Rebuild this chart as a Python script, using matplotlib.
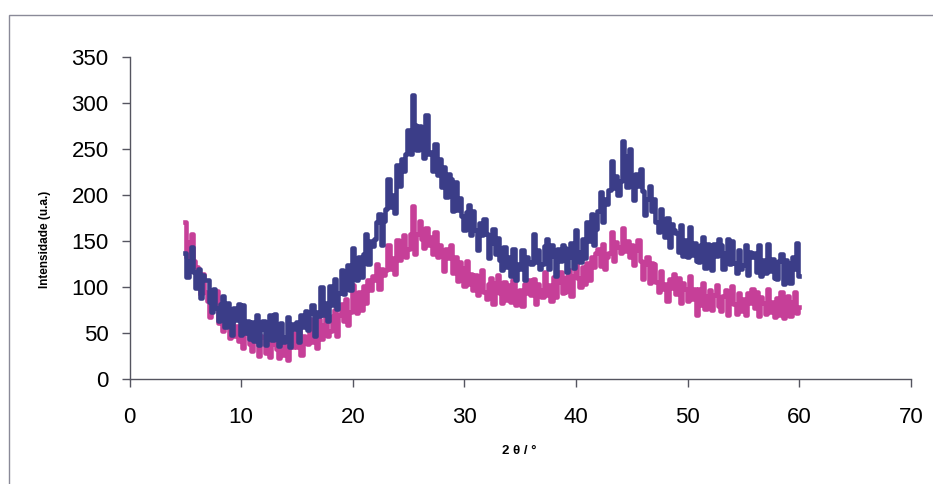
import numpy as np
import matplotlib
matplotlib.use("Agg")
import matplotlib.pyplot as plt
from matplotlib.patches import Rectangle

matplotlib.rcParams['font.family'] = ['Liberation Sans', 'DejaVu Sans']

# XRD patterns, 5-60 deg in 0.2 deg steps
two_theta_start, two_theta_end = 5, 60

amostra_a = [
    137, 111, 128, 143, 116,  99, 120, 88, 113, 107,  108, 84, 73, 98, 77,
    63, 82, 90, 57, 83,  70, 48, 77, 64, 82,  48, 80, 50, 63, 43,
    62, 41, 70, 37, 54,  63, 37, 54, 69, 42,  71, 47, 36, 61, 40,
    46, 67, 35, 60, 54,  62, 40, 69, 56, 74,  53, 72, 80, 47, 73,
    68, 100, 70, 83, 63,  101, 80, 109, 76, 93,  118, 92, 109, 124, 97,
    142, 118, 107, 132, 111,  136, 157, 125, 150, 144,  152, 171, 179, 146, 172,
    185, 217, 187, 200, 180,  232, 210, 239, 226, 244,  270, 244, 308, 276, 249,
    275, 251, 240, 287, 244,  247, 226, 255, 222, 239,  209, 230, 198, 223, 217,
    182, 214, 184, 197, 177,  162, 181, 189, 156, 182,  162, 140, 169, 156, 174,
    157, 131, 148, 163, 136,  153, 129, 118, 143, 122,  133, 112, 141, 108, 125,
    119, 140, 108, 133, 127,  125, 157, 127, 140, 120,  125, 144, 152, 119, 145,
    134, 112, 141, 128, 146,  142, 116, 133, 148, 121,  162, 138, 127, 152, 131,
    171, 150, 179, 146, 163,  182, 203, 171, 196, 190,  205, 237, 207, 220, 200,
    215, 258, 242, 209, 250,  216, 194, 223, 210, 228,  204, 178, 195, 210, 183,
    195, 171, 160, 185, 164,  154, 175, 143, 168, 162,  159, 138, 167, 134, 151,
    133, 165, 135, 148, 128,  127, 146, 154, 121, 147,  140, 118, 147, 134, 152,
    146, 120, 137, 152, 125,  150, 126, 115, 140, 119,  124, 145, 113, 138, 132,
    137, 116, 145, 112, 129,  115, 147, 117, 130, 110,  109, 128, 136, 103, 129,
    126, 104, 133, 120, 148,  112,
]

amostra_b = [
    170, 133, 149, 158, 128,  122, 102, 92, 114, 95,  85, 67, 91, 81, 96,
    61, 79, 52, 73, 67,  45, 72, 47, 58, 41,  56, 34, 50, 61, 38,
    30, 46, 53, 25, 47,  46, 28, 52, 24, 38,  53, 33, 23, 45, 26,
    39, 21, 45, 35, 50,  35, 53, 26, 47, 41,  38, 65, 40, 51, 34,
    65, 43, 59, 70, 47,  52, 68, 75, 47, 69,  81, 63, 87, 59, 73,
    102, 82, 72, 94, 75,  101, 83, 107, 97, 112,  107, 125, 98, 119, 113,
    118, 145, 120, 131, 114,  151, 129, 145, 156, 133,  141, 157, 188, 136, 158,
    172, 152, 142, 164, 145,  154, 136, 160, 132, 146,  135, 117, 141, 131, 146,
    115, 133, 106, 127, 121,  101, 128, 103, 114, 97,  113, 91, 107, 118, 95,
    87, 103, 110, 82, 104,  113, 93, 83, 105, 86,  102, 84, 108, 80, 94,
    97, 79, 103, 93, 108,  91, 109, 82, 103, 97,  89, 116, 91, 102, 85,
    111, 89, 105, 116, 93,  95, 111, 118, 90, 112,  130, 110, 100, 122, 103,
    126, 108, 132, 122, 137,  141, 123, 147, 119, 133,  137, 160, 128, 149, 143,
    137, 164, 139, 150, 133,  146, 124, 140, 151, 128,  109, 125, 132, 104, 126,
    125, 105, 95, 117, 98,  103, 85, 109, 99, 114,  92, 110, 83, 104, 98,
    85, 112, 87, 98, 70,  98, 80, 104, 76, 90,  97, 75, 91, 102, 79,
    74, 90, 97, 69, 91,  101, 81, 71, 93, 74,  87, 69, 93, 83, 98,
    77, 95, 68, 89, 83,  71, 98, 73, 84, 67,  88, 70, 94, 66, 80,
    90, 68, 84, 95, 72,  78,
]

x_ticks = [0, 10, 20, 30, 40, 50, 60, 70]
y_ticks = [0, 50, 100, 150, 200, 250, 300, 350]

fig = plt.figure(figsize=(9.33, 4.84), dpi=100)
ax = fig.add_axes([0.1388, 0.2169, 0.8376, 0.6659])

tt_a = np.linspace(two_theta_start, two_theta_end, len(amostra_a))
tt_b = np.linspace(two_theta_start, two_theta_end, len(amostra_b))

ax.plot(tt_b, amostra_b, color="#c63f98", lw=3.3, drawstyle="steps-mid")
ax.plot(tt_a, amostra_a, color="#3b3d88", lw=3.3, drawstyle="steps-mid")

ax.set_xlim(0, 70)
ax.set_ylim(0, 350)
ax.set_xticks(x_ticks)
ax.set_yticks(y_ticks)

for side in ["top", "right"]:
    ax.spines[side].set_visible(False)
for side in ["left", "bottom"]:
    ax.spines[side].set_color("#555560")
    ax.spines[side].set_linewidth(1.0)

ax.tick_params(axis="y", direction="out", length=6, width=1, color="#555560",
               labelsize=16, pad=9)
ax.tick_params(axis="x", direction="out", length=6, width=1, color="#555560",
               labelsize=16, pad=14)

fig.text(0.0482, 0.506, "Intensidade (u.a.)", rotation=90, ha="center", va="center",
         fontsize=8.5, fontweight="bold")
fig.text(0.557, 0.068, "2 θ / °", ha="center", va="center",
         fontsize=9.5, fontweight="bold")

# chart frame, runs off the right and bottom edges
fig.patches.append(Rectangle((9 / 933, -0.2), 1.2, 1.2 - 15 / 484,
                             transform=fig.transFigure, fill=False,
                             edgecolor="#8a8a98", lw=1.0))

fig.savefig("out.png", dpi=100)
